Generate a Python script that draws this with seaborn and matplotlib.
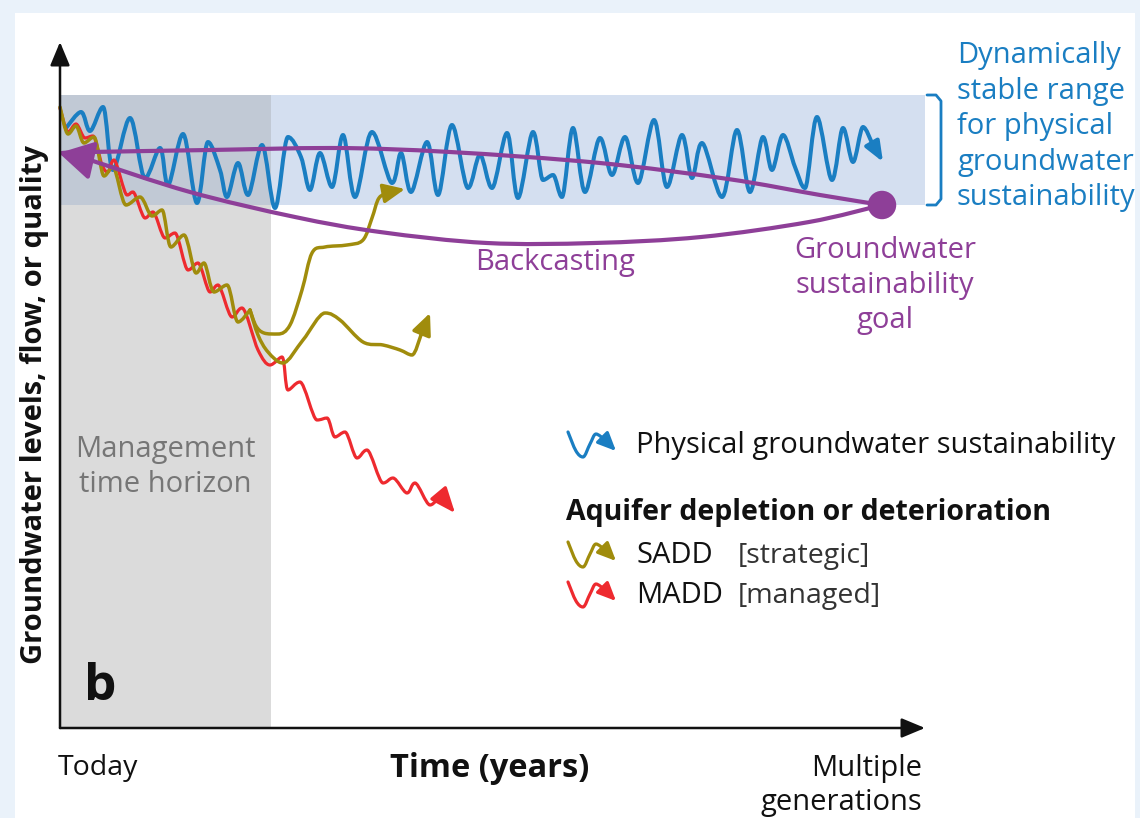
import numpy as np
import matplotlib.pyplot as plt
import seaborn as sns
from matplotlib.path import Path
from matplotlib.patches import PathPatch, Rectangle

# ======================================
# DATA (diagram units = pixels, y grows downward)
# ======================================
# axes
ORIGIN = (60, 728)
Y_TIP = 42
X_TIP = 925

# shaded regions
HORIZON_X = [60, 271]
BAND_X = [60, 925]
BAND_Y = [95, 205]

# physical groundwater sustainability (blue)
blue_x = [66, 81, 90, 103, 113, 130, 145, 160, 168, 183, 197, 208, 220, 227, 238, 248,
          262, 275, 288, 301, 310, 320, 332, 343, 355, 372, 392, 401, 411, 427, 438, 452,
          468, 480, 492, 507, 518, 533, 543, 553, 562, 573, 585, 600, 612, 625, 638, 654,
          667, 682, 692, 702, 722, 737, 750, 763, 772, 783, 795, 805, 817, 832, 843, 853,
          863, 872, 883]
blue_y = [128, 112, 131, 107, 170, 118, 178, 148, 185, 134, 203, 142, 170, 197, 163, 195,
          145, 208, 137, 157, 190, 153, 187, 135, 197, 132, 183, 153, 192, 142, 195, 125,
          188, 155, 188, 133, 198, 132, 180, 175, 197, 128, 192, 138, 175, 137, 183, 120,
          187, 135, 178, 143, 197, 130, 192, 137, 170, 135, 167, 188, 117, 180, 128, 162,
          127, 143, 162]

# SADD (olive): shared descent, then two recoveries
sadd_x = [60, 68, 76, 84, 94, 104, 113, 126, 140, 152, 162, 171, 184, 196, 204, 214,
          227, 238, 250]
sadd_y = [107, 134, 126, 143, 137, 176, 167, 205, 197, 216, 210, 247, 235, 273, 263, 292,
          285, 322, 310]
sadd1_x = [250, 256, 264, 278, 290, 302, 312, 325, 347, 363, 372, 379, 390, 405]
sadd1_y = [310, 326, 333, 334, 325, 290, 253, 247, 245, 240, 218, 198, 192, 189]
sadd2_x = [250, 258, 268, 283, 303, 325, 340, 363, 383, 400, 412, 421, 430]
sadd2_y = [310, 335, 352, 363, 340, 313, 320, 342, 345, 350, 355, 335, 313]

# MADD (red)
madd_x = [60, 68, 76, 85, 93, 102, 108, 114, 127, 133, 145, 153, 165, 175, 188, 198,
          210, 218, 232, 242, 258, 270, 282, 288, 300, 317, 327, 335, 345, 357, 367, 383,
          393, 407, 415, 430, 440, 455]
madd_y = [108, 132, 124, 138, 136, 165, 172, 160, 195, 192, 218, 212, 238, 233, 270, 263,
          292, 285, 317, 308, 350, 365, 357, 390, 382, 420, 418, 437, 432, 458, 450, 483,
          478, 493, 483, 505, 495, 513]

# backcasting loop (purple)
back_up_x = [882, 820, 728, 600, 450, 330, 210, 90, 62]
back_up_y = [205, 195, 179, 163, 152, 148, 150, 152, 153]
back_lo_x = [882, 809, 701, 594, 487, 380, 295, 190, 90]
back_lo_y = [205, 222, 237, 243, 243, 232, 217, 192, 160]
goal_x = [882]
goal_y = [205]

# legend icon shape (relative)
icon_dx = [0, 8, 15, 22, 28, 36, 48]
icon_dy = [0, 19, 25, 12, 2, 7, 19]

# text
range_lines = ["Dynamically", "stable range", "for physical", "groundwater", "sustainability"]
range_base = [63, 99, 134, 170, 205]
goal_lines = ["Groundwater", "sustainability", "goal"]
goal_base = [258, 293, 328]
horizon_lines = ["Management", "time horizon"]
horizon_base = [457, 492]
legend_rows = [("Physical groundwater sustainability", "", 453, 432, "#1a7ec2"),
               ("SADD", "[strategic]", 563, 542, "#a08c0c"),
               ("MADD", "[managed]", 603, 582, "#ee2a2f")]

BLUE = "#1a7ec2"
OLIVE = "#a08c0c"
RED = "#ee2a2f"
PURPLE = "#8e3f98"

# ======================================
# HELPERS
# ======================================
def smooth_path(xs, ys):
    # cubic Hermite through the read points, flat tangents at peaks/troughs
    pts = np.column_stack([xs, ys]).astype(float)
    n = len(pts)
    tang = np.zeros_like(pts)
    for i in range(n):
        a = pts[max(i - 1, 0)]
        b = pts[min(i + 1, n - 1)]
        tang[i] = (b - a) / 2
        if 0 < i < n - 1 and (pts[i, 1] - a[1]) * (b[1] - pts[i, 1]) < 0:
            tang[i, 1] = 0
    verts = [pts[0]]
    codes = [Path.MOVETO]
    for i in range(n - 1):
        verts += [pts[i] + tang[i] / 3, pts[i + 1] - tang[i + 1] / 3, pts[i + 1]]
        codes += [Path.CURVE4] * 3
    return Path(verts, codes)


def draw_curve(ax, xs, ys, color, lw, arrow=None, z=3):
    end = len(xs) - 1 if arrow else len(xs)
    ax.add_patch(PathPatch(smooth_path(xs[:end], ys[:end]), fill=False, edgecolor=color,
                           lw=lw, capstyle="round", joinstyle="round", zorder=z))
    if arrow:
        ax.annotate("", xy=(xs[-1], ys[-1]), xytext=(xs[-2], ys[-2]), zorder=z,
                    arrowprops=dict(arrowstyle=f"-|>,head_length={arrow[1]},head_width={arrow[2]}",
                                    color=color, lw=lw, mutation_scale=arrow[0],
                                    shrinkA=0, shrinkB=0))


# ======================================
# FIGURE
# ======================================
sns.set_theme(style="white")
plt.rcParams["font.family"] = ["Open Sans", "DejaVu Sans"]

fig = plt.figure(figsize=(11.4, 8.18), dpi=100, facecolor="#eaf2fa")
ax = fig.add_axes([0, 0, 1, 1])
ax.set_xlim(0, 1140)
ax.set_ylim(818, 0)
ax.axis("off")
ax.add_patch(Rectangle((15, 13), 1120, 810, facecolor="white", edgecolor="none", zorder=0))

# regions
ax.fill_between(HORIZON_X, BAND_Y[0], ORIGIN[1], color="#dbdbdb", lw=0, zorder=1)
ax.fill_between([HORIZON_X[1], BAND_X[1]], BAND_Y[0], BAND_Y[1], color="#d4dff0", lw=0, zorder=1)
ax.fill_between(HORIZON_X, BAND_Y[0], BAND_Y[1], color="#c1c9d5", lw=0, zorder=1)

# bracket
ax.plot([927, 936, 941, 941, 936, 927], [BAND_Y[0], BAND_Y[0], BAND_Y[0] + 6, BAND_Y[1] - 6,
        BAND_Y[1], BAND_Y[1]], color=BLUE, lw=2, solid_joinstyle="round", zorder=2)

# axes arrows
for tip in [(ORIGIN[0], Y_TIP), (X_TIP, ORIGIN[1])]:
    ax.annotate("", xy=tip, xytext=ORIGIN, zorder=6,
                arrowprops=dict(arrowstyle="-|>,head_length=0.72,head_width=0.3", color="#111111",
                                lw=1.8, mutation_scale=20, shrinkA=0, shrinkB=0))

# series
draw_curve(ax, blue_x, blue_y, BLUE, 2.9, arrow=(12, 1.0, 0.4), z=3)
draw_curve(ax, madd_x, madd_y, RED, 2.3, arrow=(14, 1.1, 0.45), z=3)
draw_curve(ax, sadd1_x, sadd1_y, OLIVE, 2.5, arrow=(13, 1.0, 0.45), z=3)
draw_curve(ax, sadd2_x, sadd2_y, OLIVE, 2.5, arrow=(13, 1.0, 0.45), z=3)
draw_curve(ax, sadd_x, sadd_y, OLIVE, 2.5, z=3)

# backcasting
draw_curve(ax, back_up_x, back_up_y, PURPLE, 3.0, z=4)
draw_curve(ax, back_lo_x, back_lo_y, PURPLE, 3.0, z=4)
ax.annotate("", xy=(back_up_x[-1] - 3, back_up_y[-1]), xytext=(back_lo_x[-1], back_lo_y[-1]), zorder=4,
            arrowprops=dict(arrowstyle="-|>,head_length=0.7,head_width=0.4", color=PURPLE,
                            lw=3.0, mutation_scale=30, shrinkA=0, shrinkB=0))
sns.scatterplot(x=goal_x, y=goal_y, ax=ax, s=420, color=PURPLE, edgecolor="none", zorder=5)

# texts
FS = 21
for s, b in zip(range_lines, range_base):
    ax.text(957, b, s, fontsize=FS, color=BLUE, va="baseline", ha="left")
for s, b in zip(goal_lines, goal_base):
    ax.text(885, b, s, fontsize=FS, color=PURPLE, va="baseline", ha="center")
ax.text(555, 270, "Backcasting", fontsize=FS, color=PURPLE, va="baseline", ha="center")
for s, b in zip(horizon_lines, horizon_base):
    ax.text(165, b, s, fontsize=FS, color="#767676", va="baseline", ha="center")
ax.text(84, 700, "b", fontsize=37, fontweight="bold", color="#111111", va="baseline", ha="left")

ax.text(35, 405, "Groundwater levels, flow, or quality", fontsize=21, fontweight="bold",
        rotation=90, va="center", ha="center", color="#111111")
ax.text(58, 775, "Today", fontsize=20.5, va="baseline", ha="left", color="#111111")
ax.text(490, 777, "Time (years)", fontsize=23.5, fontweight="bold", va="baseline", ha="center",
        color="#111111")
ax.text(922, 776, "Multiple", fontsize=FS, va="baseline", ha="right", color="#111111")
ax.text(922, 810, "generations", fontsize=FS, va="baseline", ha="right", color="#111111")

# legend
ax.text(566, 520, "Aquifer depletion or deterioration", fontsize=20.5, fontweight="bold",
        va="baseline", ha="left", color="#111111")
for label, note, base, top, col in legend_rows:
    ix = [568 + d for d in icon_dx]
    iy = [top + d for d in icon_dy]
    draw_curve(ax, ix, iy, col, 2.3, arrow=(11, 1.0, 0.45), z=3)
    ax.text(636, base, label, fontsize=FS, va="baseline", ha="left", color="#111111")
    if note:
        ax.text(738, base, note, fontsize=20.5, va="baseline", ha="left", color="#333333")

fig.savefig("out.png", dpi=100, facecolor=fig.get_facecolor())
